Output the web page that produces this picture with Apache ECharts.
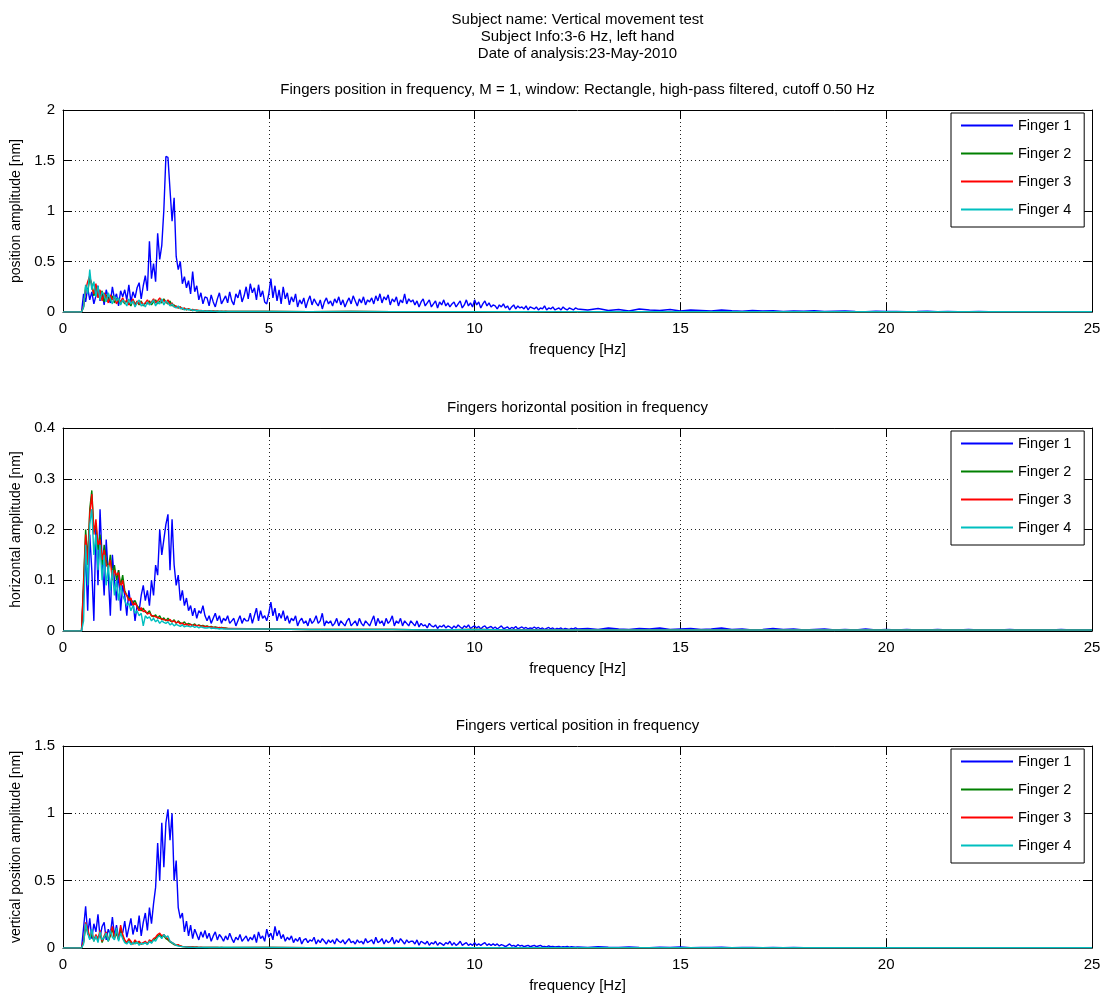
<!DOCTYPE html>
<html><head><meta charset="utf-8">
<script src="https://cdn.jsdelivr.net/npm/echarts@6/dist/echarts.min.js"></script>
<style>html,body{margin:0;padding:0;background:#fff}#c{width:1107px;height:996px}</style>
</head><body><div id="c"></div>
<script>
const FIG_TITLE = ['Subject name: Vertical movement test', 'Subject Info:3-6 Hz, left hand', 'Date of analysis:23-May-2010'];
const PANEL_TITLES = ['Fingers position in frequency, M = 1, window: Rectangle, high-pass filtered, cutoff 0.50 Hz',
  'Fingers horizontal position in frequency', 'Fingers vertical position in frequency'];
const Y_NAMES = ['position amplitude [nm]', 'horizontal amplitude [nm]', 'vertical position amplitude [nm]'];
const X_NAME = 'frequency [Hz]';
const SERIES_NAMES = ['Finger 1', 'Finger 2', 'Finger 3', 'Finger 4'];
const X_TICKS = [0, 5, 10, 15, 20, 25];
const Y_TICKS = [[0, 0.5, 1, 1.5, 2], [0, 0.1, 0.2, 0.3, 0.4], [0, 0.5, 1, 1.5]];

// frequency grid (Hz): zeros below the 0.5 Hz cut-off, 0.05 Hz bins, coarser tails
const F_STEP = 0.05, F_START = 0.5;
const F1_TAIL_START = 12.5, F1_TAIL_STEP = 0.25;
const F234_TAIL_START = 5, F234_TAIL_STEP = 1;
const BELOW_CUTOFF = [0, 0, 0, 0, 0, 0, 0, 0, 0, 0];

// ---------- panel 1 : position amplitude [nm] ----------
const P1_F1 = [
  .18,.10,.24,.12,.20,.08,.16,.26,.11,.19,.07,.22,.14,.09,.25,.13,.18,.06,.21,.15,
  .22,.12,.27,.10,.20,.14,.24,.29,.13,.26,.36,.21,.70,.33,.48,.30,.78,.52,.66,1.01,
  1.54,1.53,1.21,.90,1.13,.55,.42,.50,.28,.35,.24,.31,.18,.40,.20,.26,.12,.19,.08,.15,
  .14,.06,.17,.10,.05,.13,.19,.08,.12,.16,.09,.20,.11,.07,.18,.14,.22,.10,.16,.25,
  .13,.28,.19,.24,.12,.27,.15,.21,.10,.08,.18,.33,.14,.26,.11,.22,.08,.25,.13,.19,
  .07,.15,.10,.18,.05,.12,.08,.14,.04,.11,.16,.07,.13,.09,.06,.12,.03,.10,.14,.08,
  .11,.06,.13,.09,.15,.07,.12,.05,.10,.14,.08,.16,.11,.06,.13,.09,.15,.07,.12,.10,
  .14,.08,.16,.11,.18,.09,.15,.12,.17,.07,.13,.10,.15,.06,.12,.09,.18,.08,.13,.10,
  .12,.07,.11,.05,.10,.13,.06,.09,.12,.05,.08,.11,.04,.10,.07,.12,.06,.09,.05,.08,
  .10,.05,.08,.11,.04,.07,.12,.06,.09,.05,.12,.07,.10,.04,.08,.11,.06,.09,.05,.07,
  .06,.03,.07,.05,.08,.04,.06,.02,.05,.07,.03,.06,.04,.05,.03,.06,.02,.05,.04,.03,
  .05,.02,.04,.03,.06,.02,.04,.03,.05,.02,.03,.04,.02,.05,.03,.02,.04,.03,.02,.04];
const P1_F1_TAIL = [.03,.02,.035,.015,.025,.01,.03,.02,.015,.025,.01,.02,.015,.01,.02,.012,.008,.015,.01,.012,
  .006,.01,.008,.012,.005,.008,.01,.006,.004,.008,.005,.006,.004,.005,.007,.004,.005,.003,.004,.005,
  .003,.004,.003,.004,.003,.003,.004,.003,.003,.003,.003];
const P1_F2 = [
  .05,.25,.20,.33,.28,.16,.24,.18,.13,.21,.10,.17,.14,.11,.16,.09,.13,.11,.08,.12,
  .08,.11,.09,.06,.12,.08,.10,.07,.11,.06,.09,.08,.11,.07,.10,.12,.08,.11,.09,.13,
  .10,.08,.11,.06,.07,.05,.04,.05,.03,.035,.02,.03,.02,.015,.02,.012,.015,.01,.012,.01,
  .008,.01,.007,.008,.006,.007,.005,.006,.005,.006,.005];
const P1_F3 = [
  .06,.22,.30,.36,.25,.18,.28,.14,.22,.11,.19,.15,.09,.17,.12,.15,.08,.13,.10,.14,
  .09,.12,.07,.10,.13,.06,.11,.08,.10,.07,.09,.12,.08,.10,.13,.09,.11,.14,.10,.12,
  .09,.12,.07,.09,.05,.06,.04,.05,.03,.04,.025,.03,.02,.025,.015,.02,.01,.015,.01,.012,
  .01,.012,.008,.01,.007,.009,.006,.008,.006,.007,.005];
const P1_F4 = [
  .05,.27,.18,.42,.22,.30,.15,.26,.12,.20,.17,.10,.19,.13,.08,.16,.11,.14,.07,.12,
  .10,.06,.13,.08,.11,.05,.09,.12,.06,.08,.05,.10,.07,.09,.12,.06,.10,.08,.13,.07,
  .11,.09,.06,.08,.05,.04,.06,.03,.04,.02,.03,.02,.025,.015,.02,.01,.015,.01,.012,.008,
  .01,.008,.01,.006,.008,.005,.007,.005,.006,.005,.005];
const P1_TAIL234 = [.005,.004,.005,.004,.004,.004,.003,.004,.003,.003,.003,.003,.003,.003,.003,.003,.003,.003,.003,.003,.003];

// ---------- panel 2 : horizontal amplitude [nm] ----------
const P2_F1 = [
  .08,.15,.04,.19,.12,.02,.21,.09,.24,.14,.07,.18,.11,.03,.15,.10,.06,.12,.04,.09,
  .07,.03,.08,.05,.06,.02,.05,.04,.07,.09,.06,.08,.05,.10,.07,.13,.11,.20,.15,.18,
  .21,.23,.12,.22,.13,.09,.11,.06,.08,.05,.065,.04,.05,.03,.045,.025,.04,.035,.05,.03,
  .02,.03,.015,.025,.035,.02,.03,.015,.025,.02,.03,.015,.02,.025,.01,.02,.03,.015,.025,.02,
  .02,.035,.015,.03,.045,.02,.04,.025,.03,.02,.035,.057,.03,.045,.02,.035,.025,.04,.02,.03,
  .015,.025,.02,.03,.01,.02,.025,.015,.02,.01,.025,.015,.02,.03,.015,.02,.035,.01,.02,.015,
  .02,.01,.015,.025,.01,.02,.015,.01,.02,.025,.01,.015,.02,.01,.025,.015,.01,.02,.015,.01,
  .02,.03,.01,.025,.015,.02,.01,.025,.015,.02,.03,.01,.02,.015,.025,.01,.02,.015,.01,.02,
  .015,.01,.02,.008,.015,.01,.012,.006,.015,.01,.008,.012,.005,.01,.008,.012,.006,.01,.008,.005,
  .01,.006,.012,.008,.005,.01,.007,.012,.005,.008,.01,.006,.009,.004,.008,.01,.005,.007,.009,.005,
  .008,.004,.007,.01,.005,.006,.008,.004,.007,.005,.009,.004,.006,.008,.005,.007,.004,.006,.005,.008,
  .005,.007,.004,.006,.003,.005,.007,.004,.006,.003,.005,.004,.006,.003,.005,.004,.003,.005,.004,.006];
const P2_F1_TAIL = [.004,.005,.003,.006,.004,.003,.005,.004,.006,.003,.004,.005,.003,.004,.006,.003,.004,.002,.003,.005,
  .003,.004,.002,.003,.004,.002,.003,.002,.004,.002,.003,.002,.003,.002,.002,.003,.002,.002,.003,.002,
  .002,.002,.003,.002,.002,.002,.002,.003,.002,.002,.002];
const P2_F2 = [
  .10,.20,.14,.24,.277,.20,.21,.16,.19,.13,.17,.14,.12,.15,.11,.13,.10,.12,.09,.11,
  .08,.07,.065,.06,.055,.06,.05,.045,.04,.045,.037,.035,.04,.03,.028,.032,.025,.03,.022,.026,
  .02,.025,.02,.018,.022,.015,.02,.016,.014,.018,.012,.015,.013,.011,.014,.01,.012,.01,.011,.009,
  .01,.008,.009,.007,.008,.007,.006,.007,.006,.006,.005];
const P2_F3 = [
  .09,.19,.13,.23,.27,.19,.22,.17,.18,.14,.16,.13,.125,.14,.10,.12,.11,.115,.085,.10,
  .076,.07,.06,.065,.05,.056,.048,.04,.046,.038,.04,.033,.036,.03,.03,.028,.027,.025,.024,.022,
  .022,.02,.023,.018,.02,.016,.018,.014,.016,.012,.014,.011,.013,.01,.012,.01,.011,.009,.01,.008,
  .009,.008,.008,.007,.007,.006,.007,.006,.006,.005,.005];
const P2_F4 = [
  .02,.17,.09,.21,.24,.15,.19,.12,.17,.10,.15,.09,.13,.08,.12,.07,.10,.06,.09,.07,
  .06,.05,.055,.04,.05,.035,.04,.03,.035,.01,.03,.025,.028,.02,.025,.018,.022,.015,.02,.017,
  .015,.018,.012,.015,.01,.013,.011,.009,.012,.008,.01,.009,.008,.01,.007,.009,.006,.008,.007,.006,
  .006,.007,.005,.006,.005,.005,.004,.005,.004,.004,.004];
const P2_TAIL234 = [.004,.003,.003,.003,.002,.003,.002,.002,.002,.002,.002,.002,.002,.002,.002,.002,.002,.002,.002,.002,.002];

// ---------- panel 3 : vertical position amplitude [nm] ----------
const P3_F1 = [
  .15,.31,.10,.22,.07,.18,.12,.25,.08,.16,.19,.06,.14,.10,.23,.09,.17,.07,.13,.11,
  .20,.08,.15,.22,.10,.17,.12,.24,.09,.19,.26,.13,.30,.18,.33,.45,.78,.50,.93,.60,
  .93,1.03,.80,1.00,.50,.65,.30,.22,.26,.12,.20,.09,.17,.07,.14,.10,.06,.12,.08,.13,
  .07,.11,.05,.09,.12,.06,.10,.08,.05,.09,.06,.11,.07,.04,.08,.06,.10,.05,.07,.09,
  .05,.08,.06,.10,.04,.12,.07,.09,.05,.14,.08,.11,.06,.16,.09,.13,.07,.10,.05,.08,
  .06,.09,.04,.07,.05,.08,.03,.06,.07,.04,.06,.05,.08,.03,.06,.04,.07,.05,.03,.06,
  .04,.06,.03,.07,.05,.04,.06,.03,.05,.07,.04,.05,.03,.06,.04,.05,.03,.07,.04,.05,
  .06,.03,.08,.04,.05,.07,.03,.06,.04,.05,.08,.03,.06,.04,.07,.05,.03,.06,.04,.05,
  .05,.03,.06,.02,.05,.04,.03,.05,.02,.04,.03,.05,.02,.04,.03,.02,.04,.03,.05,.02,
  .04,.02,.03,.05,.02,.03,.04,.02,.03,.02,.04,.02,.03,.02,.03,.04,.02,.03,.02,.03,
  .02,.03,.015,.025,.02,.01,.02,.03,.015,.02,.01,.025,.015,.02,.01,.015,.02,.01,.015,.02,
  .01,.015,.02,.01,.012,.008,.015,.01,.012,.008,.01,.012,.006,.01,.008,.012,.006,.01,.008,.006];
const P3_F1_TAIL = [.008,.005,.01,.006,.004,.008,.005,.003,.006,.004,.007,.003,.005,.004,.006,.003,.004,.005,.003,.004,
  .002,.004,.003,.002,.003,.002,.003,.002,.002,.003,.002,.002,.002,.003,.002,.002,.002,.002,.002,.002,
  .002,.002,.002,.002,.002,.002,.002,.002,.002,.002,.002];
const P3_F2 = [
  .04,.16,.12,.07,.10,.05,.09,.06,.11,.04,.08,.10,.05,.09,.14,.07,.11,.06,.15,.09,
  .05,.035,.06,.04,.03,.05,.035,.04,.03,.035,.04,.03,.05,.04,.06,.07,.09,.10,.08,.09,
  .07,.06,.045,.035,.025,.02,.02,.015,.01,.01,.008,.008,.007,.007,.006,.006,.005,.005,.005,.004,
  .004,.004,.004,.004,.004,.004,.004,.004,.004,.004,.004];
const P3_F3 = [
  .05,.19,.14,.08,.12,.06,.10,.07,.13,.05,.09,.12,.06,.10,.16,.08,.13,.07,.17,.10,
  .06,.04,.07,.05,.03,.06,.04,.05,.03,.04,.05,.03,.06,.05,.07,.08,.10,.11,.09,.10,
  .08,.07,.05,.04,.03,.02,.025,.015,.012,.01,.008,.01,.007,.008,.006,.007,.005,.006,.005,.005,
  .005,.004,.005,.004,.004,.004,.003,.004,.003,.003,.003];
const P3_F4 = [
  .03,.18,.11,.06,.14,.05,.09,.04,.12,.06,.08,.11,.05,.13,.08,.06,.15,.05,.11,.07,
  .04,.03,.05,.025,.04,.03,.045,.02,.035,.03,.04,.025,.05,.035,.06,.05,.08,.09,.07,.10,
  .08,.09,.05,.04,.03,.02,.015,.012,.01,.008,.007,.006,.006,.005,.005,.004,.004,.004,.004,.004,
  .004,.004,.004,.004,.004,.004,.004,.004,.004,.004,.004];
const P3_TAIL234 = [.004,.003,.003,.003,.003,.002,.003,.002,.002,.002,.002,.002,.002,.002,.002,.002,.002,.002,.002,.002,.002];

// ---------- build ----------
const COLORS = ['#0000ff', '#008000', '#ff0000', '#00bfbf'];
const FONT = 'Liberation Sans, Arial, Helvetica, sans-serif';
const GRIDS = [{ top: 110, height: 202 }, { top: 428, height: 203 }, { top: 746, height: 202 }];
const LEFT = 63, WIDTH = 1029;

function seg(start, step, vals) { return vals.map((v, i) => [Math.round((start + i * step) * 1000) / 1000, v]); }
function f1Data(main, tail) {
  return seg(0, F_STEP, BELOW_CUTOFF).concat(seg(F_START, F_STEP, main), seg(F1_TAIL_START, F1_TAIL_STEP, tail));
}
function f234Data(main, tail) {
  return seg(0, F_STEP, BELOW_CUTOFF).concat(seg(F_START, F_STEP, main), seg(F234_TAIL_START, F234_TAIL_STEP, tail));
}
const PANEL_DATA = [
  [f1Data(P1_F1, P1_F1_TAIL), f234Data(P1_F2, P1_TAIL234), f234Data(P1_F3, P1_TAIL234), f234Data(P1_F4, P1_TAIL234)],
  [f1Data(P2_F1, P2_F1_TAIL), f234Data(P2_F2, P2_TAIL234), f234Data(P2_F3, P2_TAIL234), f234Data(P2_F4, P2_TAIL234)],
  [f1Data(P3_F1, P3_F1_TAIL), f234Data(P3_F2, P3_TAIL234), f234Data(P3_F3, P3_TAIL234), f234Data(P3_F4, P3_TAIL234)]
];

const black = '#000';
const TXT = { fontFamily: FONT, fontSize: 15, fontWeight: 'normal', color: black, lineHeight: 17 };
const titles = [{
  text: FIG_TITLE.join('\n'), left: LEFT + WIDTH / 2, top: 11, textAlign: 'center', padding: 0, textStyle: TXT
}];
const grids = [], xAxes = [], yAxes = [], series = [], legends = [];
GRIDS.forEach((g, p) => {
  titles.push({ text: PANEL_TITLES[p], left: LEFT + WIDTH / 2, top: g.top - 29, textAlign: 'center', padding: 0, textStyle: TXT });
  grids.push({ left: LEFT, top: g.top, width: WIDTH, height: g.height, containLabel: false, outerBoundsMode: 'none', show: false });
  const yt = Y_TICKS[p];
  const ymin = yt[0], ymax = yt[yt.length - 1], yint = yt[1] - yt[0];
  const xmin = X_TICKS[0], xmax = X_TICKS[X_TICKS.length - 1], xint = X_TICKS[1] - X_TICKS[0];
  xAxes.push({
    gridIndex: p, type: 'value', position: 'bottom', min: xmin, max: xmax, interval: xint,
    name: X_NAME, nameLocation: 'middle', nameGap: 30,
    nameTextStyle: { fontFamily: FONT, fontSize: 15, color: black },
    axisLine: { show: true, onZero: false, lineStyle: { color: black, width: 1 } },
    axisTick: { show: true, inside: true, length: 9, lineStyle: { color: black } },
    axisLabel: { fontFamily: FONT, fontSize: 15, color: black, margin: 9 },
    splitLine: { show: true, lineStyle: { color: '#222', type: [1, 3], width: 1 } }
  });
  xAxes.push({
    gridIndex: p, type: 'value', position: 'top', min: xmin, max: xmax, interval: xint,
    axisLine: { show: true, onZero: false, lineStyle: { color: black, width: 1 } },
    axisTick: { show: true, inside: true, length: 9, lineStyle: { color: black } },
    axisLabel: { show: false }, splitLine: { show: false }
  });
  yAxes.push({
    gridIndex: p, type: 'value', position: 'left', min: ymin, max: ymax, interval: yint,
    name: Y_NAMES[p], nameLocation: 'middle', nameGap: 35, nameRotate: 90,
    nameTextStyle: { fontFamily: FONT, fontSize: 14, color: black },
    axisLine: { show: true, onZero: false, lineStyle: { color: black, width: 1 } },
    axisTick: { show: true, inside: true, length: 9, lineStyle: { color: black } },
    axisLabel: { fontFamily: FONT, fontSize: 15, color: black, margin: 8 },
    splitLine: { show: true, lineStyle: { color: '#222', type: [1, 3], width: 1 } }
  });
  yAxes.push({
    gridIndex: p, type: 'value', position: 'right', min: ymin, max: ymax, interval: yint,
    axisLine: { show: true, onZero: false, lineStyle: { color: black, width: 1 } },
    axisTick: { show: true, inside: true, length: 9, lineStyle: { color: black } },
    axisLabel: { show: false }, splitLine: { show: false }
  });
  SERIES_NAMES.forEach((nm, k) => {
    series.push({
      name: nm, type: 'line', xAxisIndex: 2 * p, yAxisIndex: 2 * p, data: PANEL_DATA[p][k],
      showSymbol: false, symbol: 'none', silent: true, animation: false, z: 2 + k,
      lineStyle: { color: COLORS[k], width: 1.4 }, itemStyle: { color: COLORS[k] }
    });
  });
  legends.push({
    orient: 'vertical', left: 951, top: g.top + 3, padding: [5, 13, 10, 10], itemGap: 13,
    itemWidth: 52, itemHeight: 2, icon: 'rect', selectedMode: false,
    backgroundColor: '#fff', borderColor: black, borderWidth: 1, borderRadius: 0, z: 10,
    textStyle: { fontFamily: FONT, fontSize: 14.5, lineHeight: 14, color: black },
    data: SERIES_NAMES.slice()
  });
});

const chart = echarts.init(document.getElementById('c'), null, { renderer: 'canvas' });
chart.setOption({
  animation: false, backgroundColor: '#fff',
  title: titles, grid: grids, xAxis: xAxes, yAxis: yAxes, legend: legends, series: series, tooltip: { show: false }
});
</script></body></html>
